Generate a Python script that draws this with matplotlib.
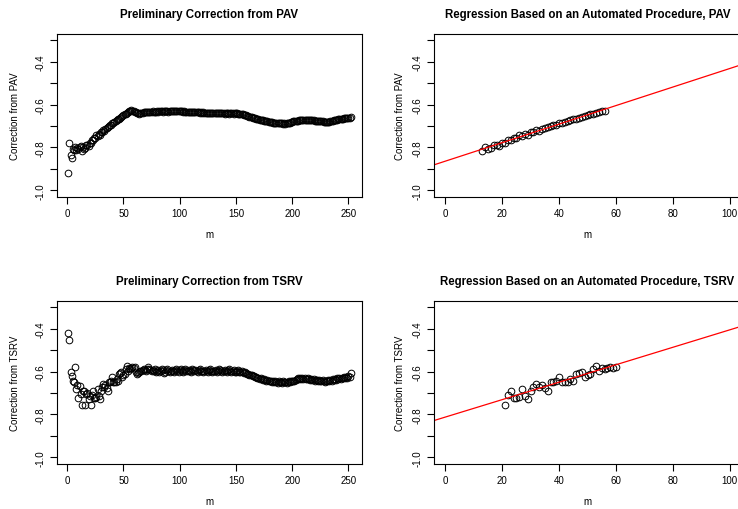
import numpy as np
import matplotlib
matplotlib.use("Agg")
import matplotlib.pyplot as plt

plt.rcParams["font.family"] = ["Liberation Sans", "DejaVu Sans"]
plt.rcParams["axes.unicode_minus"] = False

# Preliminary correction from PAV, one value per m = 1, 2, ...
pav = [
    -0.917, -0.777, -0.835, -0.850, -0.805, -0.810, -0.800, -0.812, -0.803, -0.808,
    -0.800, -0.795, -0.815, -0.798, -0.808, -0.803, -0.790, -0.788, -0.792, -0.778,
    -0.780, -0.765, -0.764, -0.757, -0.754, -0.742, -0.748, -0.738, -0.740, -0.730,
    -0.726, -0.720, -0.721, -0.712, -0.708, -0.704, -0.700, -0.695, -0.696, -0.688,
    -0.685, -0.681, -0.679, -0.674, -0.668, -0.666, -0.661, -0.657, -0.653, -0.650,
    -0.646, -0.642, -0.638, -0.635, -0.632, -0.629, -0.627, -0.628, -0.631, -0.634,
    -0.637, -0.639, -0.641, -0.642, -0.641, -0.640, -0.638, -0.636, -0.635, -0.635,
    -0.634, -0.633, -0.635, -0.634, -0.633, -0.632, -0.633, -0.634, -0.633, -0.632,
    -0.633, -0.632, -0.631, -0.632, -0.633, -0.632, -0.631, -0.631, -0.632, -0.633,
    -0.632, -0.631, -0.630, -0.631, -0.632, -0.631, -0.630, -0.631, -0.632, -0.631,
    -0.631, -0.632, -0.633, -0.632, -0.633, -0.634, -0.633, -0.634, -0.635, -0.634,
    -0.635, -0.636, -0.635, -0.636, -0.637, -0.636, -0.637, -0.638, -0.637, -0.638,
    -0.637, -0.638, -0.639, -0.638, -0.639, -0.638, -0.639, -0.640, -0.639, -0.640,
    -0.639, -0.640, -0.641, -0.640, -0.639, -0.640, -0.641, -0.640, -0.641, -0.642,
    -0.641, -0.640, -0.641, -0.642, -0.641, -0.640, -0.641, -0.642, -0.641, -0.640,
    -0.641, -0.642, -0.643, -0.642, -0.643, -0.645, -0.647, -0.649, -0.651, -0.653,
    -0.655, -0.657, -0.658, -0.660, -0.661, -0.663, -0.664, -0.666, -0.667, -0.669,
    -0.670, -0.672, -0.673, -0.674, -0.676, -0.677, -0.678, -0.679, -0.680, -0.681,
    -0.682, -0.683, -0.684, -0.684, -0.685, -0.686, -0.686, -0.687, -0.687, -0.688,
    -0.688, -0.689, -0.688, -0.689, -0.688, -0.687, -0.685, -0.684, -0.682, -0.681,
    -0.679, -0.678, -0.677, -0.676, -0.675, -0.674, -0.673, -0.673, -0.672, -0.671,
    -0.671, -0.670, -0.671, -0.670, -0.671, -0.672, -0.673, -0.673, -0.674, -0.675,
    -0.676, -0.676, -0.677, -0.678, -0.678, -0.679, -0.679, -0.680, -0.680, -0.681,
    -0.680, -0.681, -0.680, -0.679, -0.677, -0.676, -0.674, -0.673, -0.671, -0.670,
    -0.669, -0.668, -0.667, -0.667, -0.666, -0.665, -0.665, -0.664, -0.663, -0.662,
    -0.661, -0.657,
]

# Preliminary correction from TSRV, one value per m = 1, 2, ...
tsrv = [
    -0.420, -0.453, -0.604, -0.619, -0.643, -0.648, -0.580, -0.681, -0.661, -0.723,
    -0.666, -0.704, -0.755, -0.689, -0.689, -0.755, -0.704, -0.700, -0.727, -0.712,
    -0.755, -0.707, -0.692, -0.724, -0.724, -0.720, -0.681, -0.712, -0.730, -0.693,
    -0.673, -0.658, -0.673, -0.665, -0.677, -0.692, -0.650, -0.647, -0.642, -0.627,
    -0.650, -0.647, -0.650, -0.635, -0.642, -0.612, -0.608, -0.602, -0.625, -0.617,
    -0.612, -0.589, -0.576, -0.596, -0.585, -0.589, -0.585, -0.581, -0.583, -0.581,
    -0.600, -0.612, -0.605, -0.600, -0.596, -0.598, -0.592, -0.590, -0.595, -0.598,
    -0.590, -0.580, -0.588, -0.594, -0.598, -0.592, -0.596, -0.590, -0.600, -0.596,
    -0.592, -0.600, -0.598, -0.590, -0.595, -0.605, -0.600, -0.594, -0.588, -0.596,
    -0.604, -0.598, -0.592, -0.596, -0.600, -0.594, -0.590, -0.598, -0.602, -0.594,
    -0.590, -0.596, -0.600, -0.594, -0.588, -0.596, -0.598, -0.592, -0.596, -0.600,
    -0.590, -0.594, -0.598, -0.592, -0.596, -0.600, -0.594, -0.588, -0.596, -0.598,
    -0.602, -0.596, -0.592, -0.598, -0.600, -0.594, -0.590, -0.596, -0.600, -0.596,
    -0.598, -0.594, -0.600, -0.596, -0.590, -0.594, -0.598, -0.602, -0.596, -0.592,
    -0.598, -0.600, -0.594, -0.590, -0.596, -0.600, -0.598, -0.594, -0.600, -0.604,
    -0.598, -0.594, -0.600, -0.602, -0.598, -0.604, -0.606, -0.602, -0.608, -0.612,
    -0.610, -0.614, -0.618, -0.616, -0.620, -0.622, -0.626, -0.624, -0.628, -0.630,
    -0.634, -0.632, -0.636, -0.638, -0.636, -0.640, -0.642, -0.638, -0.644, -0.646,
    -0.642, -0.648, -0.646, -0.650, -0.644, -0.648, -0.652, -0.646, -0.650, -0.648,
    -0.652, -0.646, -0.650, -0.648, -0.652, -0.650, -0.646, -0.648, -0.644, -0.646,
    -0.642, -0.644, -0.638, -0.636, -0.632, -0.634, -0.630, -0.636, -0.632, -0.634,
    -0.630, -0.636, -0.634, -0.632, -0.636, -0.638, -0.634, -0.640, -0.636, -0.642,
    -0.638, -0.640, -0.644, -0.638, -0.642, -0.646, -0.640, -0.644, -0.648, -0.642,
    -0.646, -0.640, -0.644, -0.638, -0.642, -0.636, -0.640, -0.634, -0.638, -0.632,
    -0.636, -0.630, -0.634, -0.628, -0.632, -0.626, -0.630, -0.624, -0.628, -0.622,
    -0.626, -0.607,
]

# range of m used for the regression in the right panels
pav_range = (13, 56)
tsrv_range = (21, 60)

titles = [
    "Preliminary Correction from PAV",
    "Regression Based on an Automated Procedure, PAV",
    "Preliminary Correction from TSRV",
    "Regression Based on an Automated Procedure, TSRV",
]
ylabels = ["Correction from PAV", "Correction from TSRV"]

yticks = [-1.0, -0.9, -0.8, -0.7, -0.6, -0.5, -0.4, -0.3]
ytick_labels = ["-1.0", "", "-0.8", "", "-0.6", "", "-0.4", ""]
left_xticks = [0, 50, 100, 150, 200, 250]
right_xticks = [0, 20, 40, 60, 80, 100]

W, H = 738, 510
fig = plt.figure(figsize=(W / 100, H / 100), dpi=100)


def px_axes(x0, y_top, w, h):
    return fig.add_axes([x0 / W, (H - y_top - h) / H, w / W, h / H])


def style(ax, title, ylabel, ylab_off):
    ax.set_ylim(-1.028, -0.272)
    ax.set_yticks(yticks)
    ax.set_yticklabels(ytick_labels)
    ax.tick_params(direction="out", length=5, width=0.8, labelsize=7, pad=3)
    ax.tick_params(axis="y", labelrotation=90, pad=3)
    for lab in ax.get_yticklabels():
        lab.set_va("center")
    for s in ax.spines.values():
        s.set_linewidth(0.8)
    ax.annotate(title, xy=(0.5, 1), xycoords="axes fraction", xytext=(0, 20),
                textcoords="offset pixels", ha="center", va="center",
                fontsize=8.3, fontweight="bold")
    ax.annotate("m", xy=(0.5, 0), xycoords="axes fraction", xytext=(0, -38),
                textcoords="offset pixels", ha="center", va="center", fontsize=7)
    ax.annotate(ylabel, xy=(0, 0.5), xycoords="axes fraction", xytext=(ylab_off, 0),
                textcoords="offset pixels", ha="center", va="center",
                rotation=90, fontsize=7)


marker = dict(marker="o", ms=4.8, mfc="none", mec="black", mew=0.7, ls="none")

for row, (series, rng, ylab) in enumerate([(pav, pav_range, ylabels[0]),
                                           (tsrv, tsrv_range, ylabels[1])]):
    y = np.array(series)
    m = np.arange(1, len(y) + 1)
    top = 35 + row * 267

    # left: full series
    ax = px_axes(57, top, 305, 162.5)
    ax.plot(m, y, **marker)
    ax.margins(x=0.04)
    ax.set_xticks(left_xticks)
    style(ax, titles[2 * row], ylab, -42)

    # right: linear part with fitted regression line (panel runs past the edge)
    sel = (m >= rng[0]) & (m <= rng[1])
    slope, intercept = np.polyfit(m[sel], y[sel], 1)
    ax = px_axes(434, top, 307, 162.5)
    ax.plot(m[sel], y[sel], **marker)
    ax.axline((0, intercept), slope=slope, color="red", lw=0.9)
    ax.set_xlim(-4, 104)
    ax.set_xticks(right_xticks)
    style(ax, titles[2 * row + 1], ylab, -34)

fig.savefig("out.png", dpi=100)
